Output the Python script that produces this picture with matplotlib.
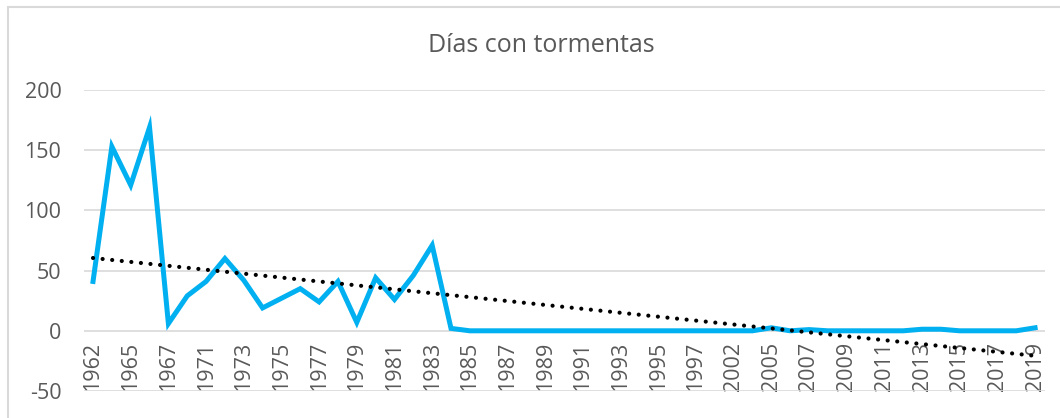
import numpy as np
import matplotlib
matplotlib.use('Agg')
import matplotlib.pyplot as plt
from matplotlib.patches import Rectangle

# años (categorías del eje, no son continuas)
years = [1962, 1964, 1965, 1966, 1967, 1970, 1971, 1972, 1973, 1974,
         1975, 1976, 1977, 1978, 1979, 1980, 1981, 1982, 1983, 1984,
         1985, 1986, 1987, 1988, 1989, 1990, 1991, 1992, 1993, 1994,
         1995, 1996, 1997, 2001, 2002, 2003, 2005, 2006, 2007, 2008,
         2009, 2010, 2011, 2012, 2013, 2014, 2015, 2016, 2017, 2018,
         2019]
dias = [41, 153, 121, 169, 6, 29, 41, 60, 42, 19,
        27, 35, 24, 41, 7, 44, 26, 46, 71, 2,
        0, 0, 0, 0, 0, 0, 0, 0, 0, 0,
        0, 0, 0, 0, 0, 0, 2.5, 0, 1, 0,
        0, 0, 0, 0, 1.3, 1.3, 0, 0, 0, 0,
        2.5]
yticks = [-50, 0, 50, 100, 150, 200]

blue = '#00B0F0'
grey_txt = '#595959'

fig = plt.figure(figsize=(10.6, 4.18), dpi=100)
ax = fig.add_axes([83.6 / 1060, 1 - 391 / 418, (1044.5 - 83.6) / 1060, (391 - 90) / 418])

# eje de categorías cruzando en 0 (hay que hacerlo antes de las etiquetas)
ax.spines['bottom'].set_position(('data', 0))
for s in ['top', 'right', 'left', 'bottom']:
    ax.spines[s].set_visible(False)

x = np.arange(len(years))
ax.plot(x, dias, color=blue, linewidth=3.6, solid_joinstyle='miter', zorder=3)

# línea de tendencia lineal
m, b = np.polyfit(x, dias, 1)
ax.plot(x, m * x + b, color='black', linewidth=3.0, linestyle=(0, (0.01, 2.3)),
        dash_capstyle='round', zorder=4)

ax.set_xlim(-0.5, len(years) - 0.5)
ax.set_ylim(-50, 200)
ax.set_yticks(yticks)
ax.set_yticklabels([str(v) for v in yticks], fontsize=15.5, color=grey_txt, family='Open Sans')
ax.yaxis.grid(True, color='#D9D9D9', linewidth=1.2)
ax.set_axisbelow(True)

ax.set_xticks(x[::2])
ax.set_xticklabels([str(y) for y in years[::2]], rotation=90, fontsize=15.5,
                   color=grey_txt, family='Open Sans', va='top')
ax.tick_params(axis='both', length=0)
ax.tick_params(axis='x', pad=8)
ax.tick_params(axis='y', pad=16)

fig.text(0.5105, 1 - 45 / 418, 'Días con tormentas', ha='center', va='center',
         fontsize=18, color=grey_txt, family='Open Sans')

# marco del gráfico
fig.patches.append(Rectangle((8 / 1060, -0.1), 1.1, 1.1 - 7 / 418, transform=fig.transFigure,
                             fill=False, edgecolor='#D9D9D9', linewidth=1.5))

fig.savefig('out.png', dpi=100)
